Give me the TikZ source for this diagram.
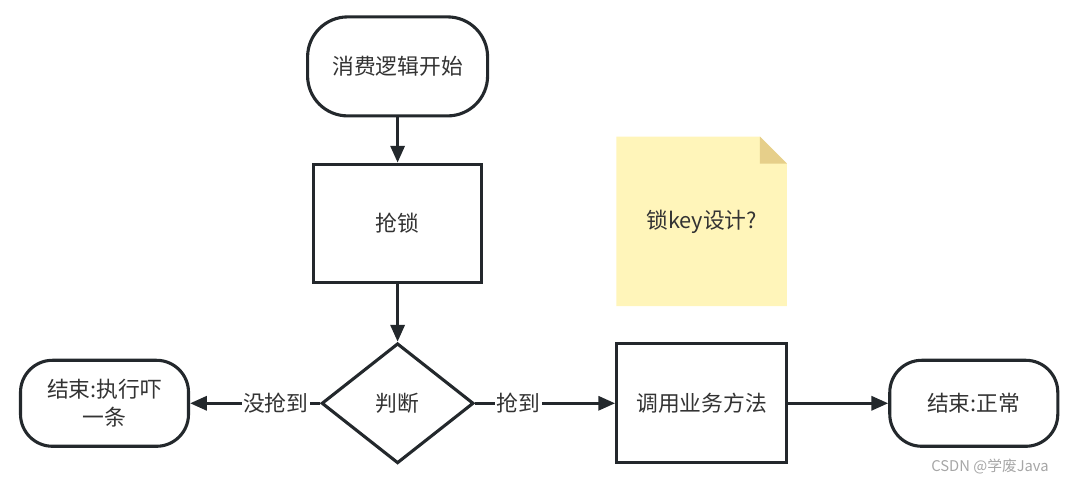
\documentclass[tikz,border=0pt]{standalone}
\usepackage{fontspec}
\setmainfont{Noto Sans CJK SC}
\usepackage{xcolor}
\usepackage{tikz}
\usetikzlibrary{arrows.meta}
\usetikzlibrary{positioning}
\usetikzlibrary{calc}
\usetikzlibrary{shapes.geometric}

\definecolor{edgecol}{HTML}{23282C}
\definecolor{textcol}{HTML}{333333}
\definecolor{notefill}{HTML}{FFF5BA}
\definecolor{notefold}{HTML}{E6CF8A}

\begin{document}
\begin{tikzpicture}
			\tikzstyle{every node}=[text=textcol,font=\fontsize{15.5pt}{20pt}\selectfont]
			\tikzstyle{terminal}=[draw=edgecol,line width=2.2pt,fill=white,rectangle,align=center]
			\tikzstyle{procbox}=[draw=edgecol,line width=2.2pt,fill=white,rectangle]
			\tikzstyle{decision}=[draw=edgecol,line width=2.2pt,fill=white,diamond,inner sep=0pt,minimum width=3.8cm,minimum height=3cm]
			\tikzstyle{flow}=[-{Triangle[length=4.2mm,width=3.5mm]},draw=edgecol,line width=2.2pt]
			\tikzstyle{lbl}=[fill=white,inner sep=1pt]

			\useasboundingbox (0,0) rectangle (26.725,-12.1);

			\node (start) [terminal,rounded corners=1cm,minimum width=4.5cm,minimum height=2.475cm] at (9.94,-1.66) {消费逻辑开始};
			\node (lock) [procbox,below=1.13cm of start,minimum width=4.2cm,minimum height=2.95cm] {抢锁};
			\node (judge) [decision,below=1.45cm of lock] {判断};
			\node (fail) [terminal,rounded corners=0.8cm,left=3.25cm of judge,minimum width=4.2cm,minimum height=2.15cm] {结束:执行吓\\一条};
			\node (invoke) [procbox,right=3.5cm of judge,minimum width=4.25cm,minimum height=2.975cm] {调用业务方法};
			\node (done) [terminal,rounded corners=0.8cm,right=2.5cm of invoke,minimum width=4.2cm,minimum height=2.15cm] {结束:正常};
			\node (note) [above=0.9cm of invoke,minimum width=4.25cm,minimum height=4.225cm] {};

			% sticky note
			\fill[notefill] (note.south west) |- ($(note.north east)+(-0.675,0)$) -- ($(note.north east)+(0,-0.675)$) |- cycle;
			\fill[notefold] ($(note.north east)+(-0.675,0)$) -- ($(note.north east)+(-0.675,-0.675)$) -- ($(note.north east)+(0,-0.675)$) -- cycle;
			\node at (note.center) {锁key设计?};

			\draw[flow] (start) -- (lock);
			\draw[flow] (lock) -- (judge);
			\draw[flow] (judge) -- node[lbl,pos=0.34] {没抢到} (fail);
			\draw[flow] (judge) -- node[lbl,pos=0.31] {抢到} (invoke);
			\draw[flow] (invoke) -- (done);

			\node (mark) [text=gray!70,font=\fontsize{10.5pt}{12pt}\selectfont] at (24.75,-11.675) {CSDN @学废Java};

		\end{tikzpicture}
\end{document}
